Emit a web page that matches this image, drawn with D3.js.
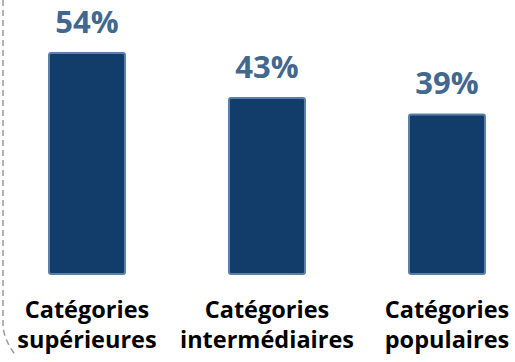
<!DOCTYPE html>
<html>
<head>
<meta charset="utf-8">
<script src="https://cdn.jsdelivr.net/npm/d3@7"></script>
<style>
  html, body { margin: 0; padding: 0; background: #fff; }
  svg { display: block; }
</style>
</head>
<body>
<svg id="chart" width="515" height="362"></svg>
<script>
// Share of respondents by social category
const categories = ["Catégories supérieures", "Catégories intermédiaires", "Catégories populaires"];
const labelLines = [["Catégories", "supérieures"], ["Catégories", "intermédiaires"], ["Catégories", "populaires"]];
const values = [54, 43, 39];

const W = 515, H = 362;
const svg = d3.select("#chart");

const x = d3.scaleBand()
  .domain(categories)
  .range([-3, 537])
  .paddingInner(0.578)
  .paddingOuter(0.289);

const y = d3.scaleLinear()
  .domain([0, 54])
  .range([274, 53]);

// dashed frame edge on the left
svg.append("path")
  .attr("d", "M3,0 L3,326 Q4,340 16,356")
  .attr("fill", "none")
  .attr("stroke", "#9a9a9a")
  .attr("stroke-width", 1.5)
  .attr("stroke-dasharray", "6,4");

const data = categories.map((c, i) => ({ c, v: values[i], lines: labelLines[i] }));

// bars
svg.selectAll("rect.bar")
  .data(data)
  .join("rect")
  .attr("class", "bar")
  .attr("x", d => x(d.c))
  .attr("y", d => y(d.v))
  .attr("width", x.bandwidth())
  .attr("height", d => y(0) - y(d.v))
  .attr("rx", 2)
  .attr("fill", "#123c69")
  .attr("stroke", "#5b80a8")
  .attr("stroke-width", 2);

// value labels
svg.selectAll("text.val")
  .data(data)
  .join("text")
  .attr("class", "val")
  .attr("x", d => x(d.c) + x.bandwidth() / 2)
  .attr("y", d => y(d.v) - 20)
  .attr("text-anchor", "middle")
  .attr("font-family", "'Open Sans', sans-serif")
  .attr("font-weight", 700)
  .attr("font-size", 31)
  .attr("fill", "#41688f")
  .text(d => d.v + "%");

// category labels (two lines each)
const cat = svg.selectAll("text.cat")
  .data(data)
  .join("text")
  .attr("class", "cat")
  .attr("text-anchor", "middle")
  .attr("font-family", "'Open Sans', sans-serif")
  .attr("font-weight", 700)
  .attr("font-size", 23.5)
  .attr("fill", "#000");

cat.selectAll("tspan")
  .data(d => d.lines.map((t, k) => ({ t, k, cx: x(d.c) + x.bandwidth() / 2 })))
  .join("tspan")
  .attr("x", d => d.cx)
  .attr("y", d => 318 + d.k * 30)
  .text(d => d.t);
</script>
</body>
</html>
